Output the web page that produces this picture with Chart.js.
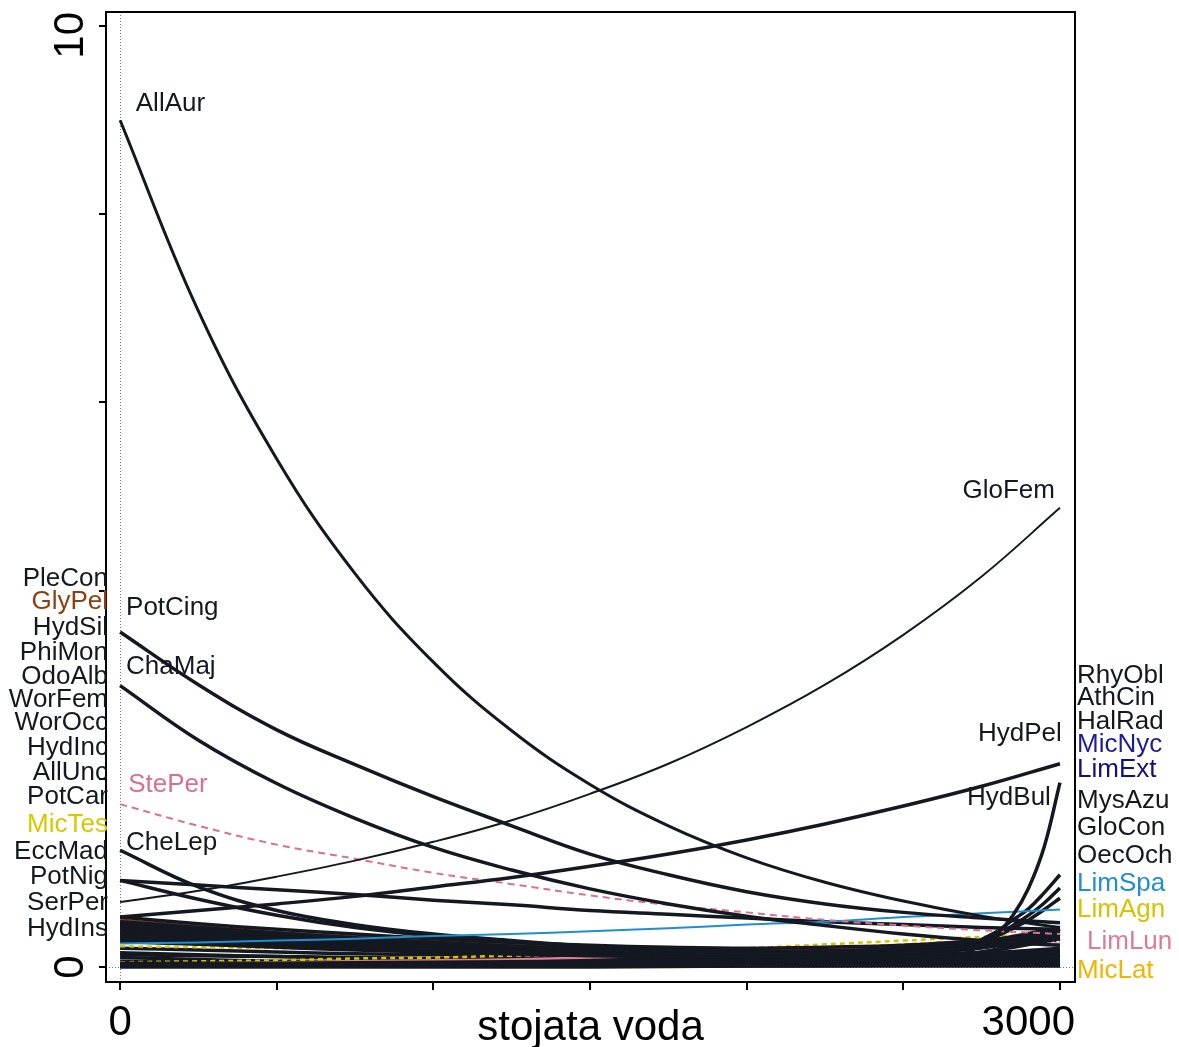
<!DOCTYPE html>
<html>
<head>
<meta charset="utf-8">
<script src="https://cdn.jsdelivr.net/npm/chart.js@4.4.1/dist/chart.umd.min.js"></script>
<style>
html, body { margin: 0; padding: 0; background: #fff; }
#wrap { width: 1179px; height: 1047px; }
</style>
</head>
<body>
<div id="wrap"><canvas id="grafico"></canvas></div>
<script>
// stojata voda - x positions of the fitted curves
const xGrid = [0, 250, 500, 750, 1000, 1250, 1500, 1750, 2000, 2250, 2500, 2750, 3000];
const xTail = [0, 500, 1000, 1500, 2000, 2500, 2600, 2700, 2800, 2850, 2900, 2950, 3000];

// species on xGrid
const allAur  = [9.00, 6.97, 5.40, 4.18, 3.24, 2.51, 1.94, 1.50, 1.16, 0.90, 0.70, 0.54, 0.42];
const gloFem  = [0.69, 0.81, 0.96, 1.13, 1.33, 1.56, 1.84, 2.16, 2.55, 3.00, 3.53, 4.15, 4.88];
const potCing = [3.56, 3.00, 2.52, 2.15, 1.81, 1.50, 1.20, 0.98, 0.80, 0.67, 0.58, 0.52, 0.47];
const chaMaj  = [2.99, 2.41, 1.95, 1.58, 1.27, 1.03, 0.83, 0.67, 0.54, 0.44, 0.35, 0.28, 0.23];
const stePer  = [1.73, 1.50, 1.30, 1.15, 1.00, 0.88, 0.76, 0.66, 0.58, 0.50, 0.44, 0.39, 0.35];
const cheLep  = [1.24, 0.85, 0.60, 0.45, 0.35, 0.28, 0.22, 0.18, 0.15, 0.13, 0.11, 0.09, 0.08];
const hydPel  = [0.53, 0.60, 0.67, 0.75, 0.85, 0.95, 1.07, 1.20, 1.35, 1.52, 1.71, 1.92, 2.16];
const limSpa  = [0.25, 0.26, 0.28, 0.30, 0.33, 0.35, 0.38, 0.41, 0.45, 0.48, 0.53, 0.57, 0.61];
const potNig  = [0.92, 0.87, 0.82, 0.77, 0.71, 0.66, 0.60, 0.56, 0.52, 0.48, 0.45, 0.42, 0.40];
const serPer  = [0.92, 0.72, 0.55, 0.42, 0.33, 0.27, 0.22, 0.19, 0.16, 0.14, 0.12, 0.11, 0.10];
const pleCon  = [0.53, 0.46, 0.40, 0.35, 0.30, 0.26, 0.23, 0.21, 0.20, 0.21, 0.23, 0.28, 0.35];
const glyPel  = [0.50, 0.43, 0.37, 0.32, 0.28, 0.24, 0.21, 0.19, 0.18, 0.19, 0.22, 0.27, 0.33];
const hydSil  = [0.48, 0.42, 0.36, 0.31, 0.26, 0.22, 0.19, 0.17, 0.16, 0.17, 0.20, 0.26, 0.38];
const phiMon  = [0.45, 0.39, 0.34, 0.29, 0.25, 0.21, 0.18, 0.16, 0.15, 0.16, 0.19, 0.27, 0.42];
const odoAlb  = [0.43, 0.37, 0.32, 0.27, 0.23, 0.20, 0.17, 0.15, 0.14, 0.14, 0.16, 0.22, 0.40];
const worFem  = [0.40, 0.35, 0.30, 0.26, 0.22, 0.19, 0.16, 0.14, 0.12, 0.11, 0.11, 0.13, 0.16];
const worOcc  = [0.38, 0.32, 0.27, 0.23, 0.19, 0.16, 0.14, 0.12, 0.10, 0.09, 0.09, 0.10, 0.12];
const hydInc  = [0.35, 0.30, 0.25, 0.21, 0.18, 0.15, 0.13, 0.11, 0.10, 0.09, 0.09, 0.11, 0.14];
const allUnc  = [0.32, 0.27, 0.23, 0.20, 0.17, 0.15, 0.13, 0.12, 0.11, 0.11, 0.12, 0.16, 0.30];
const potCar  = [0.30, 0.26, 0.22, 0.19, 0.16, 0.14, 0.12, 0.11, 0.10, 0.10, 0.11, 0.14, 0.20];
const micTes  = [0.22, 0.21, 0.20, 0.19, 0.18, 0.17, 0.16, 0.15, 0.14, 0.13, 0.12, 0.11, 0.10];
const eccMad  = [0.15, 0.13, 0.11, 0.09, 0.08, 0.07, 0.06, 0.05, 0.05, 0.05, 0.05, 0.06, 0.07];
const hydIns  = [0.10, 0.08, 0.06, 0.05, 0.04, 0.03, 0.03, 0.02, 0.02, 0.02, 0.02, 0.02, 0.02];
const micNyc  = [0.02, 0.02, 0.02, 0.03, 0.03, 0.04, 0.05, 0.06, 0.09, 0.13, 0.19, 0.26, 0.33];
const limExt  = [0.01, 0.01, 0.01, 0.02, 0.02, 0.03, 0.04, 0.05, 0.07, 0.10, 0.15, 0.21, 0.28];
const gloCon  = [0.04, 0.04, 0.04, 0.04, 0.04, 0.04, 0.05, 0.05, 0.05, 0.06, 0.06, 0.07, 0.07];
const limAgn  = [0.05, 0.06, 0.07, 0.09, 0.10, 0.12, 0.14, 0.17, 0.20, 0.24, 0.28, 0.32, 0.35];
const limLun  = [0.03, 0.04, 0.05, 0.06, 0.07, 0.08, 0.10, 0.12, 0.14, 0.17, 0.20, 0.22, 0.25];
const micLat  = [0.05, 0.06, 0.07, 0.08, 0.09, 0.10, 0.12, 0.14, 0.17, 0.20, 0.24, 0.28, 0.32];

// unlabelled curves of the dense band near zero
const band1 = [0.45, 0.40, 0.35, 0.30, 0.26, 0.22, 0.19, 0.17, 0.15, 0.14, 0.14, 0.15, 0.18];
const band2 = [0.42, 0.36, 0.31, 0.27, 0.23, 0.20, 0.18, 0.16, 0.15, 0.15, 0.17, 0.22, 0.30];
const band3 = [0.27, 0.24, 0.21, 0.18, 0.16, 0.14, 0.13, 0.12, 0.12, 0.13, 0.15, 0.20, 0.35];
const band4 = [0.20, 0.18, 0.16, 0.14, 0.13, 0.12, 0.11, 0.10, 0.10, 0.10, 0.11, 0.13, 0.15];
const band5 = [0.13, 0.12, 0.11, 0.10, 0.09, 0.09, 0.08, 0.08, 0.08, 0.08, 0.09, 0.10, 0.13];
const band6 = [0.06, 0.05, 0.05, 0.04, 0.04, 0.04, 0.04, 0.04, 0.04, 0.04, 0.04, 0.05, 0.05];
const band7 = [0.03, 0.03, 0.02, 0.02, 0.02, 0.02, 0.02, 0.02, 0.02, 0.02, 0.02, 0.02, 0.02];
const band8 = [0.01, 0.01, 0.01, 0.01, 0.01, 0.01, 0.01, 0.01, 0.01, 0.01, 0.01, 0.01, 0.01];
const band9 = [0.36, 0.31, 0.27, 0.24, 0.21, 0.19, 0.17, 0.16, 0.16, 0.17, 0.19, 0.24, 0.32];

// species on xTail (steep rise near 3000)
const hydBul  = [0.02, 0.02, 0.02, 0.02, 0.02, 0.03, 0.06, 0.15, 0.36, 0.55, 0.84, 1.28, 1.96];
const rhyObl  = [0.03, 0.03, 0.03, 0.04, 0.05, 0.08, 0.13, 0.22, 0.38, 0.50, 0.62, 0.79, 0.98];
const athCin  = [0.04, 0.04, 0.05, 0.06, 0.07, 0.09, 0.14, 0.22, 0.35, 0.44, 0.55, 0.68, 0.84];
const halRad  = [0.02, 0.02, 0.03, 0.04, 0.06, 0.08, 0.13, 0.21, 0.33, 0.41, 0.50, 0.61, 0.73];
const oecOch  = [0.01, 0.01, 0.01, 0.02, 0.03, 0.06, 0.09, 0.13, 0.19, 0.23, 0.28, 0.33, 0.40];
const mysAzu  = [0.00, 0.00, 0.00, 0.00, 0.01, 0.02, 0.03, 0.05, 0.07, 0.08, 0.10, 0.11, 0.13];

const leftNames  = ['PleCon', 'GlyPel', 'HydSil', 'PhiMon', 'OdoAlb', 'WorFem', 'WorOcc', 'HydInc',
                    'AllUnc', 'PotCar', 'MicTes', 'EccMad', 'PotNig', 'SerPer', 'HydIns'];
const rightNames = ['RhyObl', 'AthCin', 'HalRad', 'MicNyc', 'LimExt', 'MysAzu', 'GloCon', 'OecOch',
                    'LimSpa', 'LimAgn', 'LimLun', 'MicLat'];
const innerNames = ['AllAur', 'PotCing', 'ChaMaj', 'StePer', 'CheLep', 'GloFem', 'HydPel', 'HydBul'];

const xTicks = [0, 500, 1000, 1500, 2000, 2500, 3000];
const yTicks = [0, 2, 4, 6, 8, 10];

const INK = '#141821';
const nameColor = {
    GlyPel: '#8c3f12', MicTes: '#d8c800', StePer: '#d9708e', MicNyc: '#1d1d9c',
    LimExt: '#10107e', LimSpa: '#1f8fcf', LimAgn: '#d6c400', LimLun: '#e07a96', MicLat: '#f2b400'
};

function curve(xs, ys, color, width, dash) {
    return {
        data: xs.map((x, i) => ({ x: x, y: ys[i] })),
        borderColor: color,
        borderWidth: width,
        borderDash: dash || [],
        pointRadius: 0,
        tension: 0.4,
        fill: false
    };
}

// dataset 0 drawn on top
const datasets = [
    curve(xGrid, allAur, INK, 3),
    curve(xGrid, potCing, INK, 3.5),
    curve(xGrid, chaMaj, INK, 3.5),
    curve(xGrid, gloFem, INK, 2),
    curve(xGrid, hydPel, INK, 3.5),
    curve(xTail, hydBul, INK, 3.5),
    curve(xGrid, stePer, nameColor.StePer, 2, [7, 5]),
    curve(xGrid, limSpa, nameColor.LimSpa, 2),
    curve(xGrid, cheLep, INK, 3.5),
    curve(xGrid, potNig, INK, 3.5),
    curve(xGrid, serPer, INK, 3.5),
    curve(xTail, rhyObl, INK, 3.5),
    curve(xTail, athCin, INK, 3.5),
    curve(xTail, halRad, INK, 3.5),
    curve(xGrid, pleCon, INK, 3.5),
    curve(xGrid, hydSil, INK, 3.5),
    curve(xGrid, phiMon, INK, 3.5),
    curve(xGrid, odoAlb, INK, 3.5),
    curve(xGrid, worFem, INK, 3.5),
    curve(xGrid, worOcc, INK, 3.5),
    curve(xGrid, hydInc, INK, 3.5),
    curve(xGrid, allUnc, INK, 3.5),
    curve(xGrid, potCar, INK, 3.5),
    curve(xGrid, band1, INK, 3.5),
    curve(xGrid, band2, INK, 3.5),
    curve(xGrid, band9, INK, 3.5),
    curve(xGrid, band3, INK, 3.5),
    curve(xTail, oecOch, INK, 3.5),
    curve(xGrid, limAgn, nameColor.LimAgn, 2.5, [5, 4]),
    curve(xGrid, micTes, nameColor.MicTes, 2.5, [5, 4]),
    curve(xGrid, micNyc, nameColor.MicNyc, 2.5, [2, 3]),
    curve(xGrid, limLun, nameColor.LimLun, 2.5),
    curve(xGrid, band4, INK, 3.5),
    curve(xGrid, band5, INK, 3.5),
    curve(xGrid, eccMad, INK, 3.5),
    curve(xGrid, gloCon, INK, 3.5),
    curve(xTail, mysAzu, INK, 3.5),
    curve(xGrid, hydIns, INK, 3.5),
    curve(xGrid, band6, INK, 3.5),
    curve(xGrid, band7, INK, 3.5),
    curve(xGrid, band8, INK, 3.5),
    curve(xGrid, glyPel, nameColor.GlyPel, 3),
    curve(xGrid, limExt, nameColor.LimExt, 2.5, [2, 3]),
    curve(xGrid, micLat, nameColor.MicLat, 2.5, [5, 3])
];

// label anchors in data units
const leftY  = [4.13, 3.88, 3.60, 3.34, 3.08, 2.84, 2.60, 2.33, 2.06, 1.81, 1.51, 1.22, 0.96, 0.68, 0.40];
const rightY = [3.09, 2.86, 2.61, 2.36, 2.10, 1.77, 1.48, 1.18, 0.88, 0.61, 0.27, -0.04];
const innerPos = [
    [50, 9.17, 'left'], [19, 3.82, 'left'], [19, 3.19, 'left'], [26, 1.94, 'left'],
    [19, 1.32, 'left'], [2984, 5.06, 'right'], [3006, 2.48, 'right'], [2971, 1.80, 'right']
];

const decor = {
    id: 'decor',
    beforeDatasetsDraw(chart) {
        const { ctx, chartArea: a, scales: { x, y } } = chart;
        ctx.save();
        ctx.strokeStyle = '#777';
        ctx.lineWidth = 1;
        ctx.setLineDash([1, 2]);
        ctx.beginPath();
        const x0 = Math.round(x.getPixelForValue(0)) + 0.5;
        ctx.moveTo(x0, a.top); ctx.lineTo(x0, a.bottom);
        const y0 = Math.round(y.getPixelForValue(0)) + 0.5;
        ctx.moveTo(a.left, y0); ctx.lineTo(a.right, y0);
        ctx.stroke();
        ctx.restore();
    },
    afterDraw(chart) {
        const { ctx, chartArea: a, scales: { x, y } } = chart;
        ctx.save();
        // box
        ctx.strokeStyle = '#000';
        ctx.lineWidth = 2;
        ctx.strokeRect(a.left, a.top, a.right - a.left, a.bottom - a.top);

        // axis numbers
        ctx.fillStyle = '#000';
        ctx.font = '42px "Liberation Sans", Arial, sans-serif';
        ctx.textBaseline = 'alphabetic';
        ctx.textAlign = 'center';
        [0, 3000].forEach(v => {
            const s = String(v);
            const w = ctx.measureText(s).width;
            const cx = Math.min(x.getPixelForValue(v), a.right - w / 2);
            ctx.fillText(s, cx, 1035);
        });
        ctx.fillText('stojata voda', (a.left + a.right) / 2, 1040);
        [0, 10].forEach(v => {
            const s = String(v);
            const w = ctx.measureText(s).width;
            const cy = Math.max(y.getPixelForValue(v), w / 2 + 12);
            ctx.save();
            ctx.translate(83, cy);
            ctx.rotate(-Math.PI / 2);
            ctx.fillText(s, 0, 0);
            ctx.restore();
        });

        // species labels
        ctx.font = '26px "Liberation Sans", Arial, sans-serif';
        ctx.textBaseline = 'middle';
        ctx.textAlign = 'right';
        leftNames.forEach((n, i) => {
            ctx.fillStyle = nameColor[n] || INK;
            ctx.fillText(n, 108, y.getPixelForValue(leftY[i]));
        });
        ctx.textAlign = 'left';
        rightNames.forEach((n, i) => {
            ctx.fillStyle = nameColor[n] || INK;
            const dx = n === 'LimLun' ? 10 : 0;
            ctx.fillText(n, a.right + 2 + dx, y.getPixelForValue(rightY[i]));
        });
        innerNames.forEach((n, i) => {
            const p = innerPos[i];
            ctx.fillStyle = nameColor[n] || INK;
            ctx.textAlign = p[2];
            ctx.fillText(n, x.getPixelForValue(p[0]), y.getPixelForValue(p[1]));
        });
        ctx.restore();
    }
};

const ctxGrafico = document.getElementById('grafico').getContext('2d');
new Chart(ctxGrafico, {
    type: 'line',
    data: { datasets: datasets },
    options: {
        responsive: true,
        maintainAspectRatio: false,
        animation: false,
        layout: { padding: { left: 0, top: 12, right: 104, bottom: 0 } },
        plugins: { legend: { display: false }, tooltip: { enabled: false } },
        scales: {
            x: {
                type: 'linear',
                min: -45,
                max: 3048,
                afterBuildTicks: s => { s.ticks = xTicks.map(v => ({ value: v })); },
                afterFit: s => { s.height = 65; },
                ticks: { display: false },
                border: { display: false },
                grid: { drawOnChartArea: false, drawTicks: true, tickLength: 8, color: '#000', lineWidth: 2 }
            },
            y: {
                type: 'linear',
                min: -0.16,
                max: 10.15,
                afterBuildTicks: s => { s.ticks = yTicks.map(v => ({ value: v })); },
                afterFit: s => { s.width = 106; },
                ticks: { display: false },
                border: { display: false },
                grid: { drawOnChartArea: false, drawTicks: true, tickLength: 7, color: '#000', lineWidth: 2 }
            }
        }
    },
    plugins: [decor]
});
</script>
</body>
</html>
